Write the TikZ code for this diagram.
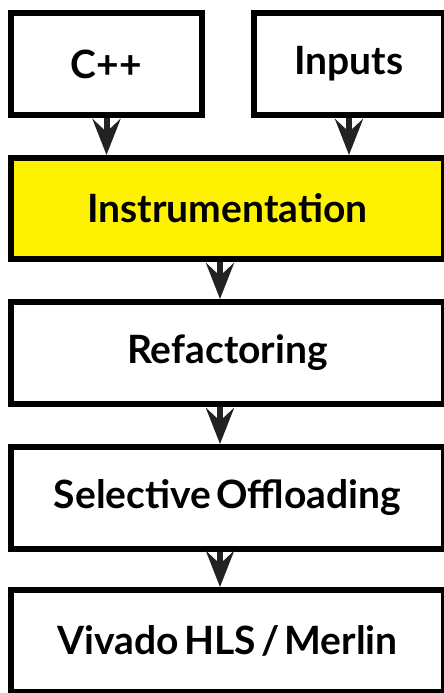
\documentclass[tikz,border=0pt]{standalone}
\usepackage{fontspec}
\setmainfont{Lato}[WordSpace=0.55]
\usetikzlibrary{arrows.meta}
\definecolor{arrowgray}{RGB}{34,34,34}
\begin{document}
\begin{tikzpicture}[x=1pt,y=-1pt,
  box/.style={draw=black, line width=6pt, rectangle, fill=white,
    font=\fontsize{39}{43}\selectfont\bfseries, inner sep=0pt},
  flow/.style={draw=arrowgray, line width=6pt,
    -{Stealth[length=36pt, width=28pt, inset=13pt]}}]
  \useasboundingbox (0,0) rectangle (444,693);
  % source boxes
  \node[box, minimum width=191pt, minimum height=102pt] (cpp) at (106.5,64) {C++};
  \node[box, minimum width=190pt, minimum height=102pt] (inputs) at (349,64) {Inputs};
  % pipeline stages
  \node[box, fill=yellow, minimum width=433pt, minimum height=101pt] (instr) at (227.5,208.5) {Instrumentation};
  \node[box, minimum width=433pt, minimum height=102pt] (refac) at (227.5,353) {Refactoring};
  \node[box, minimum width=433pt, minimum height=102pt] (offload) at (227.5,498) {Selective Offloading};
  \node[box, minimum width=433pt, minimum height=102pt] (hls) at (227.5,641) {Vivado HLS / Merlin};
  % connectors
  \draw[flow] (cpp.south) -- (cpp.south |- instr.north);
  \draw[flow] (inputs.south) -- (inputs.south |- instr.north);
  \draw[flow] ([xshift=-7.5pt]instr.south) -- ([xshift=-7.5pt]refac.north);
  \draw[flow] ([xshift=-7.5pt]refac.south) -- ([xshift=-7.5pt]offload.north);
  \draw[flow] ([xshift=-7.5pt]offload.south) -- ([xshift=-7.5pt]hls.north);
\end{tikzpicture}
\end{document}
